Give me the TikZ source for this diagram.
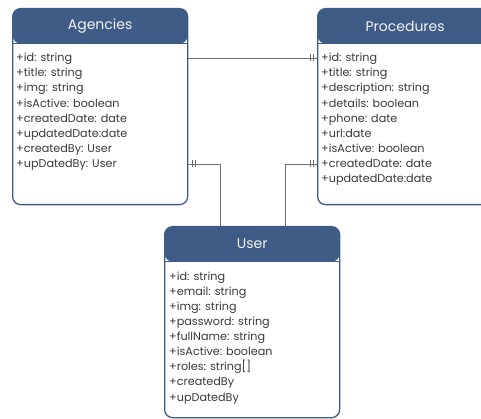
\documentclass[tikz,border=0pt]{standalone}
\usepackage{fontspec}
\setmainfont{Poppins}
\usetikzlibrary{decorations.markings,calc}
\definecolor{hdr}{HTML}{3E5C86}
\definecolor{txt}{HTML}{3A3A3A}
\definecolor{lnk}{HTML}{6E6E6E}
\tikzset{
  entity/.style={draw=hdr, line width=1.3pt, rounded corners=8pt, fill=white,
    minimum width=175pt, inner sep=0pt, anchor=north west,
    path picture={\fill[hdr] (path picture bounding box.north west) rectangle ([yshift=-35pt]path picture bounding box.north east);
      \draw[hdr, line width=1.3pt] ([yshift=-35pt]path picture bounding box.north west) -- ([yshift=-35pt]path picture bounding box.north east);}},
  ttl/.style={text=white!95!black, font=\fontsize{14}{16}\selectfont, anchor=center},
  attrs/.style={text=txt, font=\fontsize{11.2}{15.1}\selectfont, align=left, anchor=north west, inner sep=0pt},
  erline/.style={draw=lnk, line width=0.9pt, postaction={decorate},
    decoration={markings,
      mark=at position -4pt with {\draw[lnk, line width=0.9pt] (0,-3.5pt) -- (0,3.5pt);},
      mark=at position -7pt with {\draw[lnk, line width=0.9pt] (0,-3.5pt) -- (0,3.5pt);}}}
}
\begin{document}
\begin{tikzpicture}[x=1pt,y=-1pt]
\useasboundingbox (0,0) rectangle (481,419);
\clip (0,0) rectangle (481,419);
% boxes
\node[entity, minimum height=196pt] (ag) at (12,8) {};
\node[entity, minimum height=196pt] (pr) at (317,8) {};
\node[entity, minimum height=191pt] (us) at (164,226) {};
% titles
\node[ttl] (agt) at ($(ag.north)+(0,18)$) {Agencies};
\node[ttl] (prt) at ($(pr.north)+(0,18)$) {Procedures};
\node[ttl] (ust) at ($(us.north)+(0,18)$) {User};
% attributes
\node[attrs] (aga) at (16,53) {+id: string\\+title: string\\+img: string\\+isActive: boolean\\+createdDate: date\\+updatedDate:date\\+createdBy: User\\+upDatedBy: User};
\node[attrs] (pra) at (321,53) {+id: string\\+title: string\\+description: string\\+details: boolean\\+phone: date\\+url:date\\+isActive: boolean\\+createdDate: date\\+updatedDate:date};
\node[attrs] (usa) at (169,271.5) {+id: string\\+email: string\\+img: string\\+password: string\\+fullName: string\\+isActive: boolean\\+roles: string[]\\+createdBy\\+upDatedBy};
% connectors
\coordinate (y1) at (0,58);
\coordinate (y2) at (0,164);
\coordinate (x2) at (220,0);
\coordinate (x3) at (285,0);
\draw[erline] (ag.east |- y1) -- (pr.west |- y1);
\draw[erline] (us.north -| x2) |- (ag.east |- y2);
\draw[erline] (us.north -| x3) |- (pr.west |- y2);
\end{tikzpicture}
\end{document}
